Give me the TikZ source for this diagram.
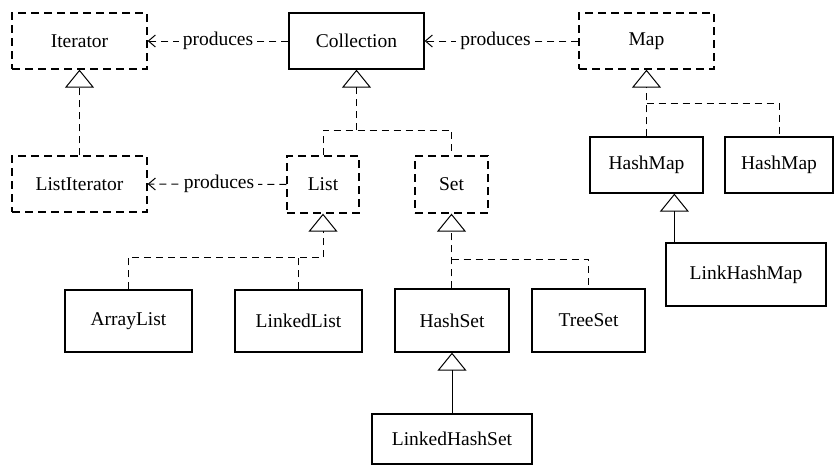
\documentclass[tikz,border=0pt]{standalone}
\usepackage{fontspec}
\setmainfont{Liberation Serif}
\usetikzlibrary{arrows.meta}

\begin{document}
\begin{tikzpicture}[x=1pt,y=-1pt,
  font=\fontsize{19.5}{23}\selectfont,
  box/.style={draw, line width=1.3pt, inner sep=0pt, minimum width=#1},
  box/.default=135pt,
  ibox/.style={box=#1, dash pattern=on 8pt off 5pt},
  ibox/.default=135pt,
  link/.style={line width=1pt, dash pattern=on 7pt off 5pt},
  realize/.style={link, -{Triangle[open, length=18pt, width=29pt, line width=1pt]}},
  extend/.style={line width=1pt, -{Triangle[open, length=18pt, width=29pt, line width=1pt]}},
  produces/.style={link, -{Straight Barb[length=7pt, width=12pt, line width=1pt]}},
  plabel/.style={fill=white, inner sep=4pt}
]
\useasboundingbox (0,0) rectangle (836,466);

% interfaces and classes
\node[ibox, minimum height=56pt] (iter) at (79.5,41) {Iterator};
\node[box, minimum height=56pt] (coll) at (356.5,41) {Collection};
\node[ibox, minimum height=56pt] (map) at (646.5,41) {Map};
\node[ibox, minimum height=56pt] (listit) at (79.5,184) {ListIterator};
\node[ibox=72pt, minimum height=57pt] (list) at (323,184.5) {List};
\node[ibox=73pt, minimum height=57pt] (set) at (451.5,184.5) {Set};
\node[box=113pt, minimum height=56pt] (hm1) at (646.5,165) {HashMap};
\node[box=108pt, minimum height=56pt] (hm2) at (779,165) {HashMap};
\node[box=160pt, minimum height=63pt] (lhm) at (746,274.5) {LinkHashMap};
\node[box=127pt, minimum height=62pt] (arr) at (128.5,321) {ArrayList};
\node[box=127pt, minimum height=62pt] (ll) at (298.5,321) {LinkedList};
\node[box=114pt, minimum height=63pt] (hs) at (452,320.5) {HashSet};
\node[box=113pt, minimum height=63pt] (ts) at (588.5,320.5) {TreeSet};
\node[box=160pt, minimum height=50pt] (lhs) at (452,439) {LinkedHashSet};

% "produces" dependencies
\draw[produces] (coll.west) -- node[plabel] {produces} (iter.east);
\draw[produces] (map.west) -- node[plabel, xshift=-6pt] {produces} (coll.east);
\draw[produces] (list.west) -- node[plabel, xshift=2pt] {produces} (listit.east);

% Iterator hierarchy
\draw[realize] (listit.north) -- (iter.south);

% Collection hierarchy
\coordinate (cj) at (356.5,130);
\draw[realize] (cj) -- (coll.south);
\draw[link] (list.north) |- (cj) -| (set.north);

% List implementations
\coordinate (lj) at (323,257);
\draw[realize] (lj) -- (list.south);
\draw[link] (arr.north) |- (lj);
\draw[link] (ll.north) -- (ll.north |- lj);

% Set implementations
\coordinate (sj) at (451.5,259);
\draw[realize] (hs.north -| set.south) -- (set.south);
\draw[link] (sj) -| (ts.north);
\draw[extend] (lhs.north) -- (hs.south);

% Map implementations
\coordinate (mj) at (646.5,103);
\draw[realize] (hm1.north) -- (map.south);
\draw[link] (mj) -| (hm2.north);
\draw[extend] (lhm.north west) ++(9,0) coordinate (lk) -- (lk |- hm1.south);
\end{tikzpicture}
\end{document}
